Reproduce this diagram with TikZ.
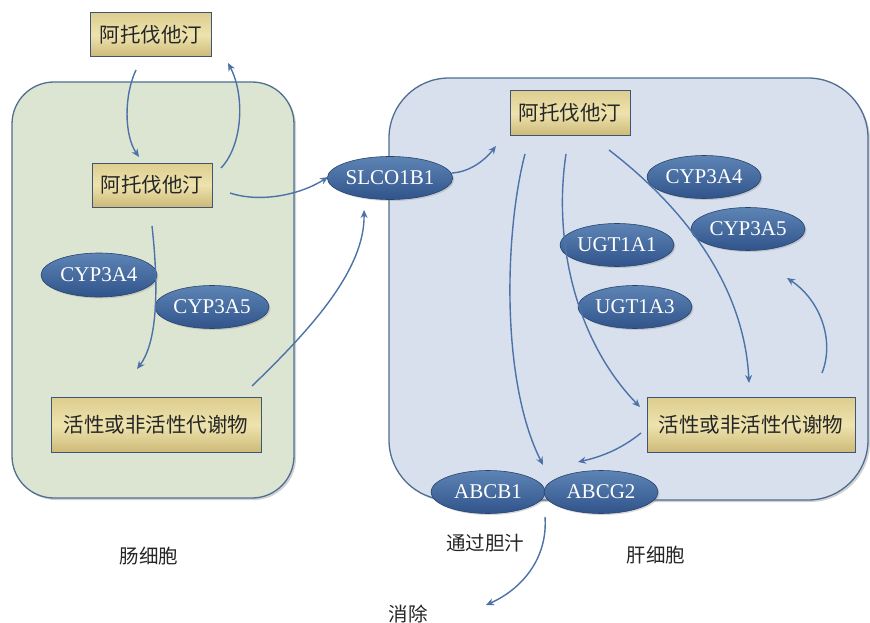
\documentclass[tikz,border=0pt]{standalone}
\usepackage{fontspec}
\setmainfont{Liberation Serif}
\newfontfamily\cjk{Noto Sans CJK SC}
\usetikzlibrary{shapes.geometric,arrows.meta,shadows}
\definecolor{gutfill}{HTML}{DCE5D2}
\definecolor{liverfill}{HTML}{D8E0EE}
\definecolor{cellline}{HTML}{4F6E92}
\definecolor{arrowc}{HTML}{4C72A8}
\definecolor{boxtop}{HTML}{DDCD8E}
\definecolor{boxmid}{HTML}{EEE3AE}
\definecolor{boxbot}{HTML}{CDB977}
\definecolor{elltop}{HTML}{5E84B6}
\definecolor{ellbot}{HTML}{30548A}
\definecolor{boxline}{HTML}{3F5576}
\tikzset{
  cell/.style={draw=cellline, line width=1.3pt, inner sep=0pt,
    drop shadow={opacity=0.35, shadow xshift=2pt, shadow yshift=-2pt}},
  drugbox/.style={draw=boxline, line width=1pt, top color=boxtop, bottom color=boxbot,
    middle color=boxmid, inner sep=0pt, font=\cjk\fontsize{20.5}{24}\selectfont, text=black!85},
  enz/.style={ellipse, draw=ellbot!80!black, line width=0.6pt, top color=elltop, bottom color=ellbot,
    text=white, inner sep=0pt, minimum width=114pt, minimum height=43pt,
    font=\fontsize{21}{24}\selectfont,
    drop shadow={opacity=0.3, shadow xshift=1.5pt, shadow yshift=-1.5pt}},
  lbl/.style={font=\cjk\fontsize{19.5}{22}\selectfont, text=black!85, inner sep=0pt},
  arr/.style={draw=arrowc, line width=1.4pt, -{Stealth[length=8pt,width=7pt]}},
}
\begin{document}
\begin{tikzpicture}[x=1pt,y=-1pt]
\clip (0,0) rectangle (870,623);
\fill[white] (0,0) rectangle (870,623);
% cells
\node[cell, fill=gutfill, rounded corners=42pt, minimum width=282pt, minimum height=416pt] (gut) at (153,290) {};
\node[cell, fill=liverfill, rounded corners=60pt, minimum width=479pt, minimum height=422pt] (liver) at (628.5,289) {};
% boxes
\node[drugbox, minimum width=121pt, minimum height=44pt] (drugtop) at (151,35) {阿托伐他汀};
\node[drugbox, minimum width=120pt, minimum height=44pt] (druggut) at (152,185) {阿托伐他汀};
\node[drugbox, minimum width=120pt, minimum height=45pt] (drugliver) at (570,113) {阿托伐他汀};
\node[drugbox, minimum width=210pt, minimum height=55pt] (metgut) at (156,425) {活性或非活性代谢物};
\node[drugbox, minimum width=208pt, minimum height=55pt] (metliver) at (751,425) {活性或非活性代谢物};
% enzymes
\node[enz, minimum width=116pt, minimum height=44pt] (cypa4g) at (99,275) {CYP3A4};
\node[enz] (cypa5g) at (212,307) {CYP3A5};
\node[enz] (slco) at (390,178) {SLCO1B1};
\node[enz] (cypa4l) at (704,177) {CYP3A4};
\node[enz] (cypa5l) at (748,229) {CYP3A5};
\node[enz] (ugt1) at (617,245) {UGT1A1};
\node[enz] (ugt3) at (635,307) {UGT1A3};
\node[enz] (abcb) at (488,492) {ABCB1};
\node[enz] (abcg) at (601,492) {ABCG2};
% labels
\node[lbl] (lgut) at (149,556) {肠细胞};
\node[lbl] (lliver) at (656,555) {肝细胞};
\node[lbl] (lbile) at (485,543) {通过胆汁};
\node[lbl] (lelim) at (408,614) {消除};
% arrow end coordinates
\coordinate (a1s) at (136,70);   \coordinate (a1e) at (139,157);
\coordinate (a2s) at (221,168);  \coordinate (a2e) at (228,63);
\coordinate (a3s) at (230,193);  \coordinate (a3e) at (328,177);
\coordinate (a4s) at (152,226);  \coordinate (a4e) at (137,369);
\coordinate (a5s) at (252,386);  \coordinate (a5e) at (364,210);
\coordinate (a6s) at (452,173);  \coordinate (a6e) at (496,146);
\coordinate (a7s) at (525,154);  \coordinate (a7e) at (543,465);
\coordinate (a8s) at (566,154);  \coordinate (a8e) at (640,407);
\coordinate (a9s) at (609,150);  \coordinate (a9e) at (749,383);
\coordinate (a10s) at (822,373); \coordinate (a10e) at (787,278);
\coordinate (a11s) at (641,433); \coordinate (a11e) at (578,462);
\coordinate (a12s) at (545,517); \coordinate (a12e) at (486,605);
% arrows
\draw[arr] (a1s) .. controls (124,95) and (124,135) .. (a1e);
\draw[arr] (a2s) .. controls (243,145) and (245,95) .. (a2e);
\draw[arr] (a3s) .. controls (260,203) and (300,195) .. (a3e);
\draw[arr] (a4s) .. controls (158,280) and (159,340) .. (a4e);
\draw[arr] (a5s) .. controls (310,330) and (365,270) .. (a5e);
\draw[arr] (a6s) .. controls (470,172) and (485,160) .. (a6e);
\draw[arr] (a7s) .. controls (505,230) and (500,380) .. (a7e);
\draw[arr] (a8s) .. controls (553,240) and (575,340) .. (a8e);
\draw[arr] (a9s) .. controls (700,220) and (745,300) .. (a9e);
\draw[arr] (a10s) .. controls (835,340) and (820,300) .. (a10e);
\draw[arr] (a11s) .. controls (620,450) and (600,457) .. (a11e);
\draw[arr] (a12s) .. controls (548,560) and (520,590) .. (a12e);
\end{tikzpicture}
\end{document}
